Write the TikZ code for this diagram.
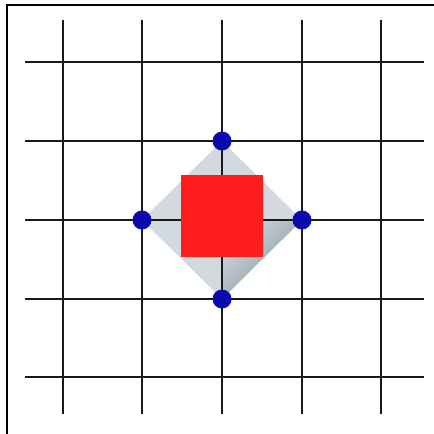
\documentclass[tikz,border=0pt]{standalone}
\usetikzlibrary{shadings}
\definecolor{dotblue}{RGB}{10,10,175}
\definecolor{sqred}{RGB}{255,28,28}
\definecolor{diamlight}{RGB}{210,218,223}
\definecolor{diamdark}{RGB}{128,144,154}
\tikzset{
  gridline/.style={line width=2.6pt, black!90},
  frame/.style={line width=2pt, black},
  vertexdot/.style={circle, fill=dotblue, inner sep=0pt, minimum size=19pt},
  redsq/.style={fill=sqred, draw=none}
}
\begin{document}
\begin{tikzpicture}[x=1pt,y=-1pt]
\useasboundingbox (0,0) rectangle (434,434);
\fill[white] (0,0) rectangle (434,434);
% frame (left and top)
\draw[frame] (7,434) -- (7,5) -- (434,5);
% grid
\foreach \x in {63,142,222,302,381} \draw[gridline] (\x,20) -- (\x,414);
\foreach \y in {62,141,220,299,377} \draw[gridline] (25,\y) -- (424,\y);
% diamond
\coordinate (t) at (222,141);
\coordinate (l) at (142,220);
\coordinate (r) at (302,220);
\coordinate (b) at (222,299);
\coordinate (c) at (222,220);
\fill[diamlight] (t) -- (r) -- (b) -- (l) -- cycle;
\shade[top color=diamlight, bottom color=diamdark, shading angle=45] (c) -- (r) -- (b) -- cycle;
% grid lines over diamond
\draw[gridline] (t) -- (b);
\draw[gridline] (l) -- (r);
% red square
\node[redsq, minimum size=82pt, inner sep=0pt] (sq) at (221.5,216) {};
% dots
\node[vertexdot] (dt) at (t) {};
\node[vertexdot] (dl) at (l) {};
\node[vertexdot] (dr) at (r) {};
\node[vertexdot] (db) at (b) {};
\end{tikzpicture}
\end{document}
